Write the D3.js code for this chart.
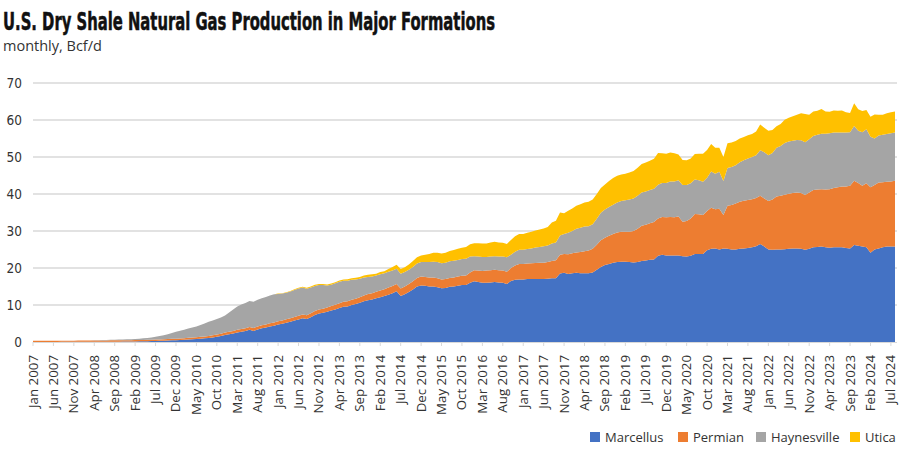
<!DOCTYPE html>
<html><head><meta charset="utf-8">
<script src="https://cdn.jsdelivr.net/npm/d3@7"></script>
<style>
body{margin:0;background:#fff;}
svg{display:block;}
</style></head>
<body><svg id="c" width="900" height="455"></svg>
<script>
// ---- data (Bcf/d, monthly, Jan 2007 – Aug 2024) ----
const startYear = 2007, startMonth = 0, nMonths = 212;
const seriesNames = ["Marcellus", "Permian", "Haynesville", "Utica"];
const seriesColors = ["#4472C4", "#ED7D31", "#A5A5A5", "#FFC000"];
const yTicks = [0, 10, 20, 30, 40, 50, 60, 70];
const tickEvery = 5;

const marcellus = [
 0.02,0.02,0.02,0.03,0.03,0.03,0.03,0.04,0.04,0.04,0.05,0.05,
 0.05,0.06,0.06,0.07,0.07,0.08,0.08,0.09,0.10,0.10,0.11,0.12,
 0.13,0.15,0.17,0.19,0.21,0.24,0.28,0.32,0.35,0.40,0.45,0.50,
 0.55,0.60,0.68,0.75,0.82,0.90,1.0,1.1,1.25,1.4,1.6,1.9,
 2.1,2.3,2.6,2.8,3.0,3.3,3.0,3.4,3.7,3.9,4.2,4.4,
 4.7,4.9,5.2,5.5,5.8,6.1,6.4,6.2,6.7,7.3,7.7,7.9,
 8.2,8.5,8.8,9.2,9.5,9.6,10.0,10.3,10.6,11.0,11.3,11.5,
 11.8,12.1,12.4,12.8,13.2,13.7,12.4,12.9,13.5,14.2,15.0,15.3,
 15.2,15.0,15.0,14.8,14.5,14.6,14.9,15.0,15.2,15.4,15.4,16.0,
 16.4,16.2,16.0,16.0,16.1,16.2,16.1,16.0,15.7,16.5,16.8,16.9,
 16.9,17.0,17.0,17.0,17.0,17.0,17.1,17.2,17.2,18.5,18.7,18.4,
 18.6,18.7,18.6,18.6,18.6,18.8,19.5,20.3,20.8,21.1,21.4,21.6,
 21.7,21.7,21.6,21.5,21.6,21.9,22.0,22.2,22.3,23.3,23.6,23.4,
 23.4,23.4,23.4,23.2,23.1,23.3,23.8,23.8,23.8,24.8,25.2,25.3,
 25.0,25.3,25.2,25.0,25.0,25.2,25.3,25.4,25.6,25.9,26.5,25.8,
 25.0,24.9,25.0,25.0,25.1,25.2,25.3,25.3,25.2,24.9,25.2,25.6,
 25.7,25.8,25.6,25.5,25.6,25.6,25.6,25.4,25.3,26.2,26.0,25.8,
 25.6,24.1,25.0,25.3,25.6,25.8,25.8,25.8
];
const permian = [
 0.30,0.30,0.30,0.30,0.30,0.31,0.31,0.31,0.32,0.32,0.32,0.33,
 0.33,0.33,0.34,0.34,0.34,0.35,0.35,0.35,0.36,0.36,0.36,0.36,
 0.36,0.36,0.36,0.37,0.37,0.38,0.38,0.38,0.39,0.39,0.40,0.40,
 0.40,0.42,0.44,0.46,0.48,0.50,0.52,0.55,0.58,0.60,0.62,0.64,
 0.66,0.68,0.70,0.72,0.74,0.76,0.78,0.80,0.82,0.84,0.86,0.88,
 0.90,0.90,0.92,0.94,0.96,0.98,1.00,1.02,1.04,1.06,1.08,1.10,
 1.15,1.20,1.25,1.30,1.35,1.38,1.40,1.42,1.50,1.60,1.65,1.70,
 1.75,1.80,1.85,1.90,1.95,2.00,2.05,2.10,2.15,2.20,2.30,2.40,
 2.40,2.40,2.40,2.40,2.40,2.40,2.42,2.45,2.48,2.50,2.60,2.80,
 3.00,3.10,3.20,3.30,3.30,3.30,3.30,3.30,3.30,3.50,3.90,4.20,
 4.20,4.25,4.30,4.35,4.40,4.45,4.50,4.70,4.90,5.10,5.10,5.30,
 5.40,5.50,5.70,5.90,6.10,6.40,6.80,7.20,7.40,7.60,7.80,8.00,
 8.10,8.10,8.20,8.50,9.00,9.50,9.70,9.90,10.10,10.10,10.20,10.30,
 10.4,10.3,10.5,9.3,9.6,10.1,10.8,10.7,10.5,10.6,11.1,10.6,
 11.0,9.0,11.6,12.0,12.4,12.7,12.9,13.0,13.0,13.0,13.0,13.0,
 13.1,13.6,14.3,14.5,14.7,14.9,15.0,15.1,15.1,14.8,15.2,15.5,
 15.5,15.5,15.6,15.8,16.0,16.2,16.4,16.6,16.9,17.4,17.0,16.4,
 17.3,17.7,17.4,17.8,17.6,17.5,17.6,17.8
];
const haynesville = [
 0,0,0,0,0,0,0,0,0,0,0,0,
 0,0,0,0.05,0.08,0.10,0.12,0.15,0.18,0.20,0.22,0.25,
 0.28,0.32,0.36,0.42,0.50,0.60,0.75,0.90,1.10,1.30,1.60,1.90,
 2.1,2.3,2.5,2.7,2.9,3.2,3.5,3.8,4.0,4.2,4.4,4.6,
 5.2,5.8,6.3,6.6,6.8,7.0,7.1,7.2,7.3,7.4,7.5,7.6,
 7.4,7.3,7.2,7.2,7.3,7.4,7.3,7.2,7.0,6.8,6.6,6.4,
 5.9,5.8,5.8,5.8,5.7,5.6,5.4,5.2,5.0,4.8,4.6,4.5,
 4.4,4.4,4.3,4.3,4.2,4.1,4.0,3.9,3.9,3.9,3.9,3.9,
 4.0,4.2,4.3,4.4,4.4,4.4,4.5,4.5,4.5,4.5,4.5,4.3,
 3.8,3.8,3.8,3.7,3.7,3.7,3.7,3.8,3.9,3.6,3.7,3.8,
 3.8,3.9,4.0,4.2,4.3,4.4,4.5,4.7,4.8,5.2,5.4,5.8,
 6.0,6.4,6.6,6.7,6.6,6.6,7.0,7.4,7.6,7.8,7.9,8.1,
 8.3,8.5,8.7,8.8,8.9,9.0,9.0,9.0,9.0,9.1,9.2,9.3,
 9.6,9.7,9.8,9.9,9.7,9.5,9.3,9.2,9.0,9.0,9.8,9.6,
 10.0,9.2,10.2,10.3,10.4,10.7,10.9,11.2,11.4,11.6,12.3,12.5,
 12.4,12.6,13.2,13.5,14.0,14.1,14.1,14.2,14.2,14.3,14.4,14.6,
 14.8,15.0,15.1,15.1,15.0,14.8,14.6,14.6,14.5,14.8,14.1,14.5,
 14.6,13.7,12.6,12.7,12.8,12.9,13.0,13.0
];
const utica = [
 0,0,0,0,0,0,0,0,0,0,0,0,
 0,0,0,0,0,0,0,0,0,0,0,0,
 0,0,0,0,0,0,0,0,0,0,0,0,
 0,0,0,0,0,0,0,0,0,0,0,0,
 0,0,0,0,0,0,0,0,0,0.02,0.03,0.05,
 0.08,0.10,0.12,0.15,0.18,0.20,0.22,0.25,0.28,0.30,0.30,0.30,
 0.30,0.30,0.30,0.30,0.32,0.35,0.40,0.45,0.50,0.55,0.60,0.60,
 0.5,0.6,0.6,0.7,0.9,1.1,1.3,1.3,1.4,1.6,1.7,1.8,
 2.0,2.2,2.4,2.5,2.6,2.7,2.8,2.9,3.0,3.1,3.2,3.3,
 3.5,3.6,3.6,3.6,3.8,3.9,3.8,3.7,3.6,4.0,4.2,4.3,
 4.3,4.4,4.5,4.6,4.7,4.8,5.0,5.7,5.9,6.2,5.6,6.0,
 6.1,6.2,6.3,6.5,6.6,6.7,6.7,6.7,6.8,7.0,7.2,7.2,
 7.2,7.2,7.3,7.4,7.6,7.7,7.8,7.9,8.1,8.6,8.0,7.9,
 7.8,7.6,7.0,6.8,6.7,6.7,6.9,7.2,7.6,7.5,7.4,7.0,
 6.5,6.5,6.7,6.6,6.5,6.4,6.3,6.3,6.2,6.4,7.0,6.6,
 6.6,6.2,5.8,5.9,6.3,6.4,6.6,6.8,7.3,7.6,6.6,6.6,
 6.5,6.7,6.0,5.8,6.0,5.9,6.0,5.5,5.2,6.1,5.8,5.7,
 5.2,5.4,6.5,5.6,5.4,5.6,5.7,5.7
];
const seriesValues = [marcellus, permian, haynesville, utica];

// ---- build table ----
const months = d3.timeMonth.range(new Date(startYear, startMonth, 1), new Date(startYear, startMonth + nMonths, 1));
const fmt = d3.timeFormat("%b %Y");
const table = months.map((d, i) => {
  const row = {i, date: d};
  seriesNames.forEach((n, k) => row[n] = seriesValues[k][i]);
  return row;
});

const svg = d3.select("#c");
const M = {left: 33, right: 895, top: 83, bottom: 342};

const x = d3.scaleLinear().domain([0, nMonths - 1]).range([M.left, M.right]);
const y = d3.scaleLinear().domain([0, 70]).range([M.bottom, M.top]);

// title
svg.append("text").attr("x", 3).attr("y", 30)
  .attr("font-family", "'Liberation Sans Narrow','DejaVu Sans Condensed','Roboto Condensed',sans-serif")
  .attr("font-weight", 700).attr("font-size", 24).attr("fill", "#111")
  .attr("stroke", "#111").attr("stroke-width", 0.5)
  .attr("textLength", 492).attr("lengthAdjust", "spacingAndGlyphs")
  .text("U.S. Dry Shale Natural Gas Production in Major Formations");
svg.append("text").attr("x", 3).attr("y", 51)
  .attr("font-family", "'Open Sans','Noto Sans',sans-serif")
  .attr("font-size", 14.5).attr("fill", "#333")
  .text("monthly, Bcf/d");

// gridlines
svg.append("g").selectAll("line").data(yTicks.filter(t => t > 0)).join("line")
  .attr("x1", M.left).attr("x2", 897)
  .attr("y1", d => y(d)).attr("y2", d => y(d))
  .attr("stroke", "#d9d9d9").attr("stroke-width", 1.5);

// y labels
svg.append("g").selectAll("text").data(yTicks).join("text")
  .attr("x", 22).attr("y", d => y(d) + 4.5).attr("text-anchor", "end")
  .attr("font-family", "'Liberation Sans Narrow','DejaVu Sans Condensed',sans-serif")
  .attr("font-size", 13.5).attr("fill", "#333")
  .text(d => d);

// stacked areas
const stack = d3.stack().keys(seriesNames);
const layers = stack(table);
const area = d3.area()
  .x(d => x(d.data.i))
  .y0(d => y(d[0]))
  .y1(d => y(d[1]));
svg.append("g").selectAll("path").data(layers).join("path")
  .attr("d", area)
  .attr("fill", (d, k) => seriesColors[k]);

// x axis baseline and ticks
svg.append("line").attr("x1", M.left).attr("x2", 897)
  .attr("y1", M.bottom + 0.5).attr("y2", M.bottom + 0.5)
  .attr("stroke", "#d9d9d9").attr("stroke-width", 1);
const tickIdx = d3.range(0, nMonths, tickEvery);
const tickLabels = tickIdx.map(i => fmt(months[i]));
svg.append("g").selectAll("line").data(tickIdx).join("line")
  .attr("x1", d => x(d)).attr("x2", d => x(d))
  .attr("y1", M.bottom).attr("y2", M.bottom + 4)
  .attr("stroke", "#d9d9d9");
svg.append("g").selectAll("text").data(tickIdx).join("text")
  .attr("transform", (d) => `translate(${x(d) + 4.5},${M.bottom + 13}) rotate(-90)`)
  .attr("text-anchor", "end")
  .attr("font-family", "'Open Sans','Noto Sans',sans-serif")
  .attr("font-size", 13.3).attr("fill", "#333")
  .text((d, k) => tickLabels[k]);

// legend
const legendX = [590, 678, 756, 850];
const lg = svg.append("g").selectAll("g").data(seriesNames).join("g")
  .attr("transform", (d, k) => `translate(${legendX[k]},432)`);
lg.append("rect").attr("width", 10).attr("height", 10)
  .attr("fill", (d, k) => seriesColors[k]);
lg.append("text").attr("x", 15).attr("y", 9.5)
  .attr("font-family", "'Open Sans','Noto Sans',sans-serif")
  .attr("font-size", 13).attr("fill", "#333")
  .text(d => d);
</script></body></html>
